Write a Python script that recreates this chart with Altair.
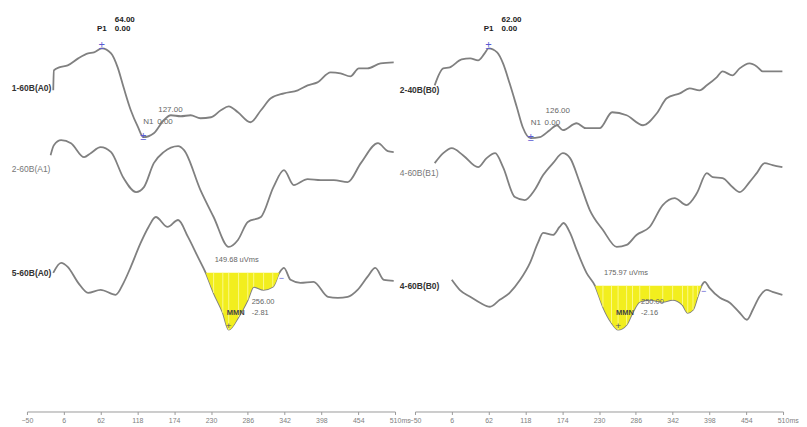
import altair as alt
import pandas as pd

FONT = "Liberation Sans"
TICKS = [-50, 6, 62, 118, 174, 230, 286, 342, 398, 454, 510]

# ---------------- left panel (A) ----------------
A1_ms = [-10, -9, -1, 12, 28, 43, 52, 64, 78, 88, 97, 108, 119, 127, 143, 158, 169, 184, 199, 214,
         230, 245, 257, 271, 290, 306, 321, 341, 362, 377, 392, 412, 427, 442, 455, 468, 488, 508]
A1_uv = [-2, 18, 21, 23, 30, 35, 36, 40, 35, 21, 1, -22, -39, -49, -45, -32, -27, -28, -27, -30,
         -29, -22, -18, -24, -34, -22, -10, -5, -2, 3, 6, 16, 15, 12, 20, 20, 25, 26]
A2_ms = [-14, -9, 2, 17, 37, 47, 62, 78, 97, 116, 128, 143, 158, 180, 189, 214, 234, 257, 271, 286,
         306, 325, 341, 356, 377, 397, 417, 438, 458, 484, 499, 508]
A2_uv = [14, 24, 29, 26, 12, 16, 22, 17, -9, -23, -18, 6, 17, 23, 19, -21, -48, -78, -71, -53,
         -48, -18, -1, -16, -10, -11, -11, -13, 6, 26, 18, 17]
A3_ms = [-10, 2, 12, 28, 43, 62, 85, 97, 108, 123, 135, 146, 164, 180, 195, 210, 222, 234, 248, 257,
         272, 286, 295, 310, 324, 334, 341, 351, 366, 386, 408, 423, 438, 453, 468, 480, 493, 508]
A3_uv = [0, 10, 6, -10, -20, -17, -22, -10, 6, 30, 46, 56, 46, 53, 36, 16, 0, -20, -40, -57,
         -44, -27, -14, -17, -14, 0, 5, -7, -10, -9, -24, -25, -24, -17, -4, 5, -7, -8]
A_NAMES = ["1-60B(A0)", "2-60B(A1)", "5-60B(A0)"]
A_OFFSETS = [324, 243, 139]
A_P1 = (64, "64.00", "0.00")
A_N1 = (127, "127.00", "0.00")
A_MMN = (257, "256.00", "-2.81")
A_AREA = "149.68 uVms"
A_WIN = (222, 334)

# ---------------- right panel (B) ----------------
B1_ms = [-20, -7, 3, 21, 34, 46, 56, 62, 75, 84, 94, 105, 114, 126, 140, 155, 166, 175, 196, 210,
         231, 250, 272, 297, 318, 333, 353, 368, 383, 394, 409, 418, 433, 444, 459, 470, 479, 494, 509]
B1_uv = [5, 22, 23, 31, 32, 30, 37, 42, 38, 27, 7, -17, -37, -48, -47, -40, -35, -40, -33, -38,
         -38, -22, -25, -35, -23, -8, -3, 2, 0, 5, 13, 19, 15, 22, 27, 24, 19, 19, 19]
B2_ms = [-20, -7, 6, 23, 46, 59, 72, 84, 102, 117, 132, 145, 160, 175, 186, 201, 216, 236, 257, 272,
         287, 307, 327, 345, 363, 379, 394, 403, 418, 433, 444, 459, 470, 482, 494, 509]
B2_uv = [10, 20, 25, 18, 6, 15, 20, 6, -24, -27, -17, -2, 10, 20, 15, -10, -37, -57, -74, -72,
         -62, -54, -32, -25, -32, -20, 0, -4, -5, -14, -19, -9, 0, 10, 8, 6]
B3_ms = [6, 18, 34, 49, 64, 79, 94, 110, 125, 137, 145, 160, 170, 176, 186, 196, 211, 224, 236, 249,
         259, 272, 281, 292, 307, 327, 342, 357, 365, 373, 380, 386, 391, 398, 414, 429, 444, 455, 464, 474,
         485, 494, 509]
B3_uv = [6, -4, -11, -17, -21, -14, -7, 6, 23, 43, 53, 51, 59, 63, 53, 36, 13, 0, -21, -37,
         -44, -39, -27, -16, -14, -16, -14, -19, -27, -24, -11, 0, 4, -2, -12, -17, -27, -34, -24, -11,
         -4, -6, -9]
B_NAMES = ["2-40B(B0)", "4-60B(B1)", "4-60B(B0)"]
B_OFFSETS = [322, 239, 126]
B_P1 = (62, "62.00", "0.00")
B_N1 = (126, "126.00", "0.00")
B_MMN = (259, "250.00", "-2.16")
B_AREA = "175.97 uVms"
B_WIN = (224, 386)

LABEL_MS = -73
W, H = 369, 404
LINE = "#808080"
YELLOW = "#f2ee1e"
BLUE = "#5a5ad2"


def panel(traces, offsets, names, p1, n1, mmn, area_txt, win):
    rows = []
    for k, (ms, uv) in enumerate(traces):
        for t, v in zip(ms, uv):
            rows.append(dict(ms=t, uv=v, trace=k, base=offsets[k], y=offsets[k] + v))
    df = pd.DataFrame(rows)

    x = alt.X("ms:Q", scale=alt.Scale(domain=[-50, 510], nice=False, zero=False),
              axis=alt.Axis(values=TICKS, title="ms", grid=False, domainColor="#9a9a9a",
                            tickColor="#9a9a9a", tickSize=3, labelFontSize=7, labelColor="#808080",
                            labelPadding=2, labelFont=FONT, titleFont=FONT, titleFontSize=7,
                            titleFontWeight="normal", titleColor="#808080", titleX=W + 6, titleY=9,
                            titleAlign="left", titleBaseline="middle", titleAngle=0,
                            labelFlush=False, labelOverlap=False))
    y = alt.Y("y:Q", scale=alt.Scale(domain=[0, H], nice=False, zero=False), axis=None)
    y2 = alt.Y2("base:Q")

    base = alt.Chart(df)
    lines = base.mark_line(color=LINE, strokeWidth=1.8, interpolate="monotone").encode(
        x=x, y=y, detail="trace:N", order="ms:Q")

    fill_df = df[(df.trace == 2) & (df.ms >= win[0]) & (df.ms <= win[1])]
    area = alt.Chart(fill_df).mark_area(color=YELLOW, opacity=1, interpolate="monotone").encode(
        x=x, y=y, y2=y2)
    stripes = alt.Chart(fill_df).mark_rule(color="#fbf98a", strokeWidth=1).encode(x=x, y=y, y2=y2)

    # trace labels
    lab_df = pd.DataFrame(dict(ms=[LABEL_MS] * 3, y=offsets, text=names,
                               w=["bold", "normal", "bold"]))
    lab_dark = alt.Chart(lab_df[lab_df.w == "bold"]).mark_text(
        align="left", baseline="middle", fontSize=8.5, font=FONT, fontWeight="bold",
        color="#333").encode(x=x, y=y, text="text:N")
    lab_light = alt.Chart(lab_df[lab_df.w == "normal"]).mark_text(
        align="left", baseline="middle", fontSize=8.5, font=FONT, color="#777").encode(
        x=x, y=y, text="text:N")

    t1_ms, t1_uv = traces[0]
    i_p1 = t1_ms.index(p1[0])
    i_n1 = t1_ms.index(n1[0])
    p1_pt = dict(ms=p1[0], y=offsets[0] + t1_uv[i_p1])
    n1_pt = dict(ms=n1[0], y=offsets[0] + t1_uv[i_n1])
    t3_ms, t3_uv = traces[2]
    i_m = t3_ms.index(mmn[0])
    m_pt = dict(ms=mmn[0], y=offsets[2] + t3_uv[i_m])
    w0 = dict(ms=win[0], y=offsets[2])
    w1 = dict(ms=win[1], y=offsets[2])

    def txt(pt, text, **kw):
        d = pd.DataFrame([dict(pt, text=text)])
        props = dict(align="left", baseline="middle", fontSize=7.5, font=FONT, color="#666")
        props.update(kw)
        return alt.Chart(d).mark_text(**props).encode(x=x, y=y, text="text:N")

    ann = [
        txt(p1_pt, "±", align="center", fontSize=11, color=BLUE, dy=-2),
        txt(n1_pt, "±", align="center", fontSize=11, color=BLUE, dy=0),
        txt(p1_pt, p1[1], dx=13, dy=-28, fontWeight="bold", color="#222", fontSize=8),
        txt(p1_pt, "P1", align="center", dx=0, dy=-19, fontWeight="bold", color="#222", fontSize=8),
        txt(p1_pt, p1[2], dx=13, dy=-19, fontWeight="bold", color="#222", fontSize=8),
        txt(n1_pt, n1[1], dx=15, dy=-27, fontSize=8),
        txt(n1_pt, "N1", dx=0, dy=-15, fontSize=8),
        txt(n1_pt, n1[2], dx=14, dy=-15, fontSize=8),
        txt(w0, area_txt, dx=9, dy=-13),
        txt(w1, "−", align="center", dx=2, dy=5, color=BLUE, fontSize=9),
        txt(m_pt, "+", align="center", dy=-4, color="#555", fontSize=10),
        txt(m_pt, "MMN", dx=-2, dy=-17, fontWeight="bold", color="#444"),
        txt(m_pt, mmn[1], dx=23, dy=-28),
        txt(m_pt, mmn[2], dx=23, dy=-17),
    ]

    return alt.layer(lines, area, stripes, lab_dark, lab_light, *ann).properties(width=W, height=H)


left = panel([(A1_ms, A1_uv), (A2_ms, A2_uv), (A3_ms, A3_uv)], A_OFFSETS, A_NAMES,
             A_P1, A_N1, A_MMN, A_AREA, A_WIN)
right = panel([(B1_ms, B1_uv), (B2_ms, B2_uv), (B3_ms, B3_uv)], B_OFFSETS, B_NAMES,
              B_P1, B_N1, B_MMN, B_AREA, B_WIN)

chart = alt.hconcat(left, right, spacing=20, bounds="flush").properties(
    padding={"left": 3, "top": 0, "right": 0, "bottom": 0},
    background="white",
).configure_view(stroke=None).configure_text(font=FONT)

chart.save("out.html", embed_options={"renderer": "svg", "actions": False})
